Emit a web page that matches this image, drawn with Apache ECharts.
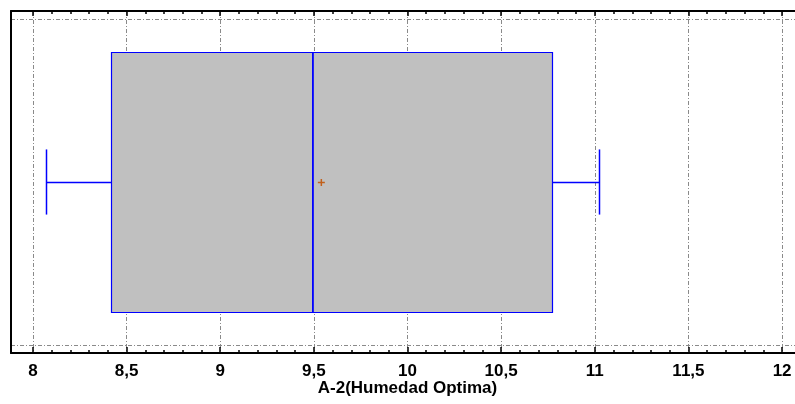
<!DOCTYPE html>
<html>
<head>
<meta charset="utf-8">
<script src="https://cdn.jsdelivr.net/npm/echarts@6/dist/echarts.min.js"></script>
<style>
  html, body { margin: 0; padding: 0; background: #ffffff; }
  #chart { width: 795px; height: 404px; }
</style>
</head>
<body>
<div id="chart"></div>
<script>
// Box-and-whisker summary of the sample
const categories = ['A-2(Humedad Optima)'];
const lowWhisker = [8.07];
const lowerQuartile = [8.415];
const medians = [9.495];
const upperQuartile = [10.77];
const highWhisker = [11.02];
const means = [9.54];

// Axis tick positions
const majorTicks = [8, 8.5, 9, 9.5, 10, 10.5, 11, 11.5, 12];
const minorTicks = [];
for (let i = 0; i < majorTicks.length - 1; i++) {
  for (let k = 1; k < 5; k++) {
    minorTicks.push(Math.round((majorTicks[i] + k * 0.1) * 10) / 10);
  }
}

const X_MIN = 7.883, X_MAX = 12.117;
// Vertical placement of the single box inside the plot (y runs 0..1)
const ROW = 0.5, BOX_LOW = 0.1, BOX_HIGH = 0.9, CAP_LOW = 0.4, CAP_HIGH = 0.6;

const BLUE = '#0000ff';
const gridLine = { color: '#8a8a8a', width: 1, type: [4, 2, 1, 2] };
const font = 'Liberation Sans, Arial, sans-serif';

function crisp(v) { return Math.round(v) + 0.5; }

function renderItem(params, api) {
  const px = i => api.coord([api.value(i), ROW])[0];
  const py = v => api.coord([X_MIN, v])[1];
  const lo = crisp(px(0)), q1 = crisp(px(1)), med = px(2), q3 = crisp(px(3)), hi = crisp(px(4)), mean = px(5);
  const yMid = crisp(py(ROW));
  const yTop = crisp(py(BOX_HIGH)), yBot = crisp(py(BOX_LOW));
  const cTop = py(CAP_HIGH), cBot = py(CAP_LOW);
  const line = (x1, y1, x2, y2, stroke, w) => ({
    type: 'line', shape: { x1, y1, x2, y2 }, style: { stroke, lineWidth: w }
  });
  return {
    type: 'group',
    children: [
      line(lo, yMid, q1, yMid, BLUE, 1.3),
      line(q3, yMid, hi, yMid, BLUE, 1.3),
      line(lo, cTop, lo, cBot, BLUE, 1.5),
      line(hi, cTop, hi, cBot, BLUE, 1.5),
      {
        type: 'rect',
        shape: { x: q1, y: yTop, width: q3 - q1, height: yBot - yTop },
        style: { fill: '#c0c0c0', stroke: BLUE, lineWidth: 1.2 }
      },
      line(med, yTop, med, yBot, BLUE, 1.8),
      line(mean - 3.5, yMid, mean + 3.5, yMid, '#c2601c', 1.5),
      line(mean, yMid - 3.5, mean, yMid + 3.5, '#c2601c', 1.5)
    ]
  };
}

function tickAxis(position, values, len, withLine, extra) {
  return Object.assign({
    type: 'value',
    position: position,
    min: X_MIN,
    max: X_MAX,
    axisLine: { show: withLine, onZero: false, lineStyle: { color: '#000', width: 2 } },
    axisTick: { show: true, inside: true, length: len, customValues: values, lineStyle: { color: '#000', width: 1.5 } },
    axisLabel: { show: false },
    splitLine: { show: false }
  }, extra || {});
}

const chart = echarts.init(document.getElementById('chart'), null, { renderer: 'canvas' });
chart.setOption({
  animation: false,
  backgroundColor: '#ffffff',
  grid: { left: 11, right: -9, top: 11, bottom: 51, containLabel: false, outerBoundsMode: 'none' },
  xAxis: [
    tickAxis('bottom', majorTicks, 6, true, {
      axisLabel: {
        show: true,
        customValues: majorTicks,
        margin: 10,
        color: '#000',
        fontFamily: font,
        fontWeight: 'bold',
        fontSize: 17,
        formatter: v => String(v).replace('.', ',')
      },
      splitLine: { show: true, lineStyle: gridLine },
      name: categories[0],
      nameLocation: 'middle',
      nameGap: 27,
      nameMoveOverlap: false,
      nameTextStyle: { color: '#000', fontFamily: font, fontWeight: 'bold', fontSize: 17 }
    }),
    tickAxis('bottom', minorTicks, 3, false),
    tickAxis('top', majorTicks, 5, true),
    tickAxis('top', minorTicks, 3, false)
  ],
  yAxis: {
    type: 'value',
    min: -0.025,
    max: 1.025,
    axisLine: { show: true, onZero: false, lineStyle: { color: '#000', width: 2 } },
    axisTick: { show: false, customValues: [0, 1] },
    axisLabel: { show: false },
    splitLine: { show: true, lineStyle: gridLine }
  },
  series: [{
    type: 'custom',
    coordinateSystem: 'cartesian2d',
    xAxisIndex: 0,
    yAxisIndex: 0,
    clip: false,
    silent: true,
    encode: { x: [0, 1, 2, 3, 4, 5] },
    data: categories.map((c, i) => [
      lowWhisker[i], lowerQuartile[i], medians[i], upperQuartile[i], highWhisker[i], means[i]
    ]),
    renderItem: renderItem
  }]
});
</script>
</body>
</html>
